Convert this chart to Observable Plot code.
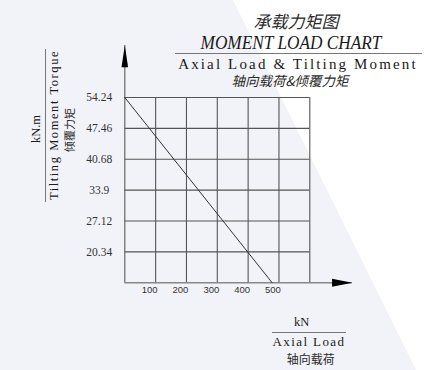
<!DOCTYPE html>
<html>
<head>
<meta charset="utf-8">
<script src="https://cdn.jsdelivr.net/npm/d3@7"></script>
<script src="https://cdn.jsdelivr.net/npm/@observablehq/plot@0.6"></script>
<style>
  html, body { margin: 0; padding: 0; background: #ffffff; }
  #wrap { position: relative; width: 433px; height: 370px; overflow: hidden; background: #ffffff; }
  #shade { position: absolute; left: 0; top: 0; width: 433px; height: 370px; background: #f2f3f8;
           clip-path: polygon(0 0, 233px 0, 416px 370px, 0 370px); }
  #chart { position: absolute; left: 0; top: 0; }
  .t { position: absolute; white-space: nowrap; color: #1a1a1a; line-height: 1; transform: translate(-50%, -50%); }
  .ser { font-family: "Liberation Serif", "DejaVu Serif", serif; }
  .cjk { font-family: "Noto Sans CJK SC", sans-serif; color: #2a2a2a; }
  .hl { position: absolute; height: 0; border-top: 1.3px solid #777; }
  .vl { position: absolute; width: 0; border-left: 1.3px solid #777; }
</style>
</head>
<body>
<div id="wrap">
  <div id="shade"></div>
  <div id="chart"></div>

  <div class="t cjk" style="left:296px; top:20px; font-size:17px; font-style:italic;">承载力矩图</div>
  <div class="t ser fit" data-w="181" style="left:291px; top:43px; font-size:18.5px; font-style:italic;">MOMENT LOAD CHART</div>
  <div class="hl" style="left:175px; top:53px; width:247px;"></div>
  <div class="t ser fit" data-w="240" style="left:298px; top:63.5px; font-size:15px;">Axial Load &amp; Tilting Moment</div>
  <div class="t cjk" style="left:290px; top:80.5px; font-size:13.5px; font-style:italic;">轴向载荷&amp;倾覆力矩</div>

  <div class="t ser fit" data-w="28" data-rot="1" style="left:35.5px; top:129px; font-size:12.5px;">kN.m</div>
  <div class="vl" style="left:45px; top:49px; height:153px;"></div>
  <div class="t ser fit" data-w="150" data-rot="1" style="left:53.8px; top:125px; font-size:12.5px;">Tilting Moment Torque</div>
  <div class="t cjk" style="left:69px; top:129.5px; font-size:11px; transform: translate(-50%, -50%) rotate(-90deg);">倾覆力矩</div>

  <div class="t ser" style="left:301.7px; top:322px; font-size:12.5px;">kN</div>
  <div class="hl" style="left:272px; top:332px; width:74px;"></div>
  <div class="t ser fit" data-w="73" style="left:309px; top:341px; font-size:13px;">Axial Load</div>
  <div class="t cjk" style="left:310.7px; top:359px; font-size:12px;">轴向载荷</div>
</div>
<script>
// ---- data ----
const xTickValues = [100, 200, 300, 400, 500];
const yTickValues = [54.24, 47.46, 40.68, 33.9, 27.12, 20.34];
const xGridValues = [0, 100, 200, 300, 400, 500, 600];
const yGridValues = [13.56, 20.34, 27.12, 33.9, 40.68, 47.46, 54.24];
const axialLoad = [0, 478];           // kN
const tiltingMoment = [54.24, 13.56]; // kN.m
const xAxisEnd = 738;   // arrow tip of the load axis
const yAxisEnd = 65.66; // arrow tip of the moment axis

const capacity = axialLoad.map((v, i) => ({load: v, moment: tiltingMoment[i]}));
const xMin = xGridValues[0], xMax = xGridValues[xGridValues.length - 1];
const yMin = yGridValues[0], yMax = yGridValues[yGridValues.length - 1];

const arrowUp = { draw(ctx) { ctx.moveTo(0, 0); ctx.lineTo(-3.3, 21.7); ctx.lineTo(3.3, 21.7); ctx.closePath(); } };
const arrowRight = { draw(ctx) { ctx.moveTo(0, 0); ctx.lineTo(-20.3, -4); ctx.lineTo(-20.3, 4); ctx.closePath(); } };

const chart = Plot.plot({
  width: 433,
  height: 370,
  style: { background: "transparent", overflow: "visible" },
  x: { domain: [xMin, xMax], range: [124.3, 309.3], axis: null },
  y: { domain: [yMin, yMax], range: [282.3, 97], axis: null },
  marks: [
    // grid
    Plot.ruleX(xGridValues.slice(1), { y1: yMin, y2: yMax, stroke: "#555", strokeWidth: 1.1 }),
    Plot.ruleY(yGridValues.slice(1), { x1: xMin, x2: xMax, stroke: "#555", strokeWidth: 1.1 }),
    // axes
    Plot.ruleX([xMin], { y1: yMin, y2: yAxisEnd, stroke: "#666", strokeWidth: 1.2 }),
    Plot.ruleY([yMin], { x1: xMin, x2: xAxisEnd, stroke: "#888", strokeWidth: 1.4 }),
    Plot.dot([{x: xMin, y: yAxisEnd}], { x: "x", y: "y", symbol: arrowUp, fill: "#000", stroke: null, r: 5 }),
    Plot.dot([{x: xAxisEnd, y: yMin}], { x: "x", y: "y", symbol: arrowRight, fill: "#000", stroke: null, r: 5 }),
    // capacity line
    Plot.line(capacity, { x: "load", y: "moment", stroke: "#333", strokeWidth: 1 }),
    // tick labels
    Plot.text(yTickValues, { x: xMin, y: d => d, text: d => String(d), dx: -25.5, textAnchor: "middle",
      fontFamily: "Liberation Serif, serif", fontSize: 11.5, fill: "#333" }),
    Plot.text(xTickValues, { x: d => d, y: yMin, text: d => String(d), dx: -6, dy: 7, textAnchor: "middle",
      lineAnchor: "middle", fontFamily: "Liberation Sans, sans-serif", fontSize: 9.5, fill: "#333" })
  ]
});
document.getElementById("chart").appendChild(chart);

function fitTexts() {
  document.querySelectorAll(".fit").forEach(el => {
    el.style.letterSpacing = "0px";
    const rot = el.dataset.rot ? " rotate(-90deg)" : "";
    el.style.transform = "translate(-50%, -50%)" + rot;
    const target = +el.dataset.w;
    const natural = el.offsetWidth;
    const n = el.textContent.length;
    if (natural > target) {
      el.style.transform = "translate(-50%, -50%)" + rot + " scaleX(" + (target / natural) + ")";
    } else {
      el.style.letterSpacing = ((target - natural) / n) + "px";
    }
  });
}
fitTexts();
if (document.fonts && document.fonts.ready) document.fonts.ready.then(fitTexts);
</script>
</body>
</html>
